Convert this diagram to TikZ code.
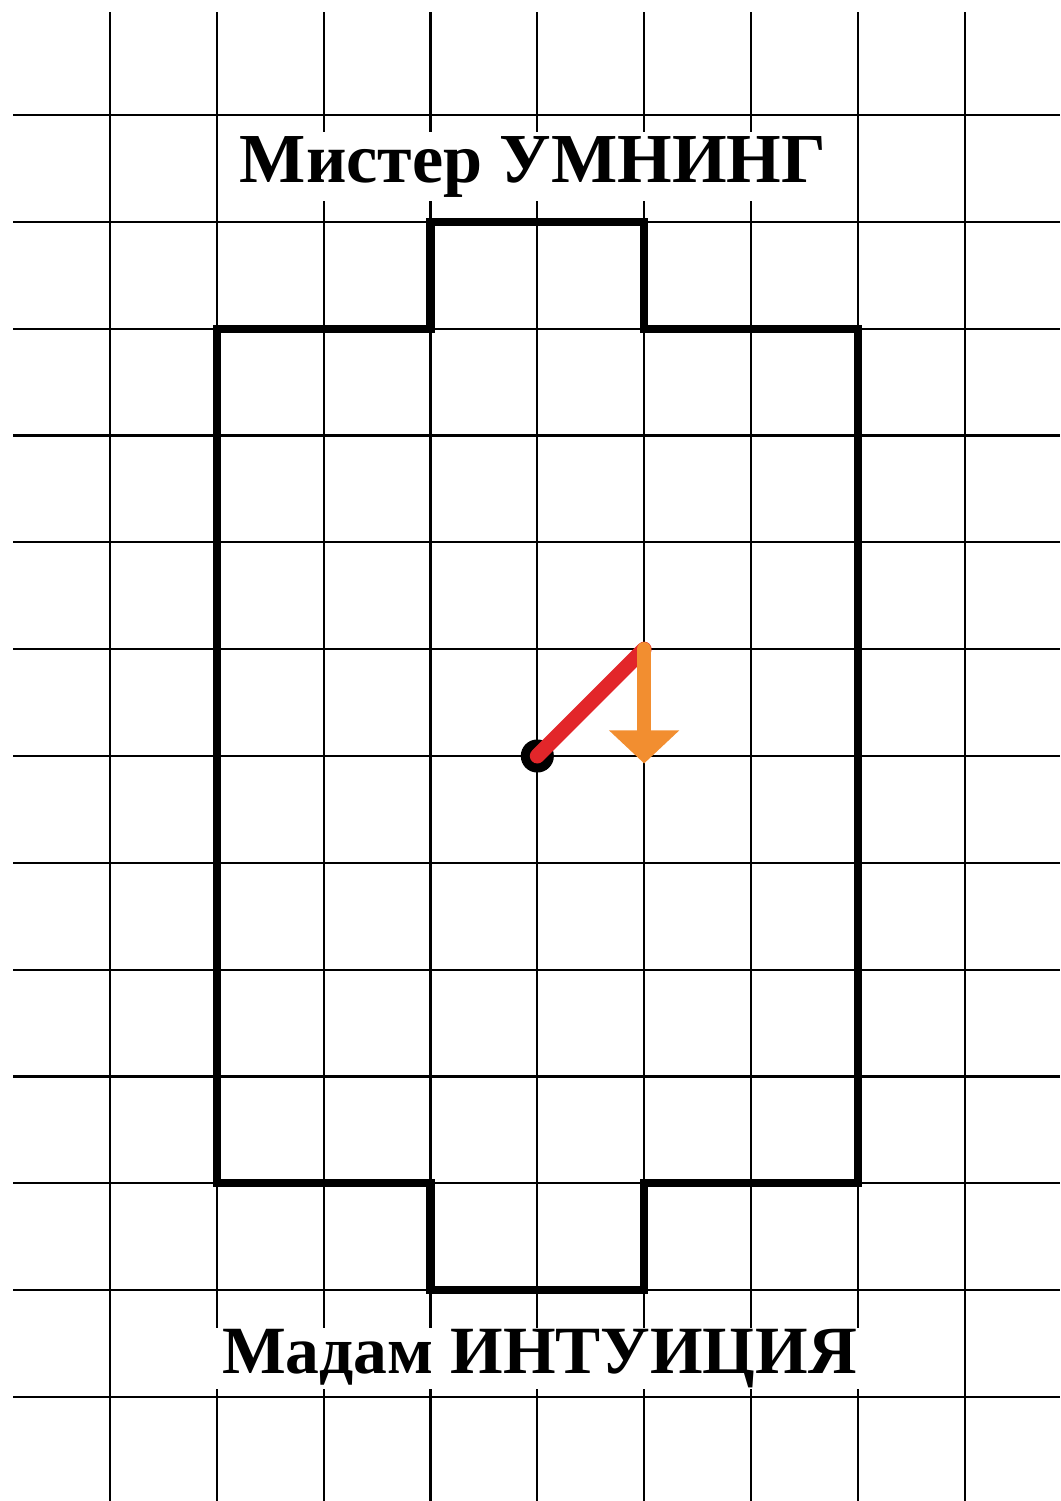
\documentclass[tikz,border=0pt]{standalone}
\usepackage{fontspec}
\setmainfont{Liberation Serif}
\usetikzlibrary{arrows.meta,positioning}
\definecolor{handred}{RGB}{226,38,42}
\definecolor{handorange}{RGB}{242,142,48}

\begin{document}
\begin{tikzpicture}[x=1cm,y=1cm,
    gridline/.style={black,line width=0.6pt},
    outline/.style={black,line width=2.2pt,line join=miter},
    caption/.style={fill=white,anchor=base,inner xsep=0.18cm,inner ysep=1pt,font=\bfseries}]
    \useasboundingbox (-1.03,-0.974) rectangle (8.895,13.077);

    % Grid
    \foreach \x in {0,...,8}
        \draw[gridline] (\x,12.96) -- (\x,-0.974);
    \foreach \y in {0,...,12}
        \draw[gridline] (-0.908,\y) -- (8.895,\y);

    % Labels
    \node[caption,font=\fontsize{18.7}{22}\selectfont\bfseries] (mister) at (3.96,11.373) {Мистер УМНИНГ};
    \node[caption,font=\fontsize{18}{22}\selectfont\bfseries,inner xsep=0.2cm,inner ysep=0.3pt] (madam) at (4.02,0.221) {Мадам ИНТУИЦИЯ};

    % Field outline
    \draw[outline] (1,10) -- (3,10) -- (3,11) -- (5,11) -- (5,10) -- (7,10)
        -- (7,2) -- (5,2) -- (5,1) -- (3,1) -- (3,2) -- (1,2) -- cycle;

    % Pointer
    \node[circle,fill=black,inner sep=0pt,minimum size=0.31cm] (pivot) at (4,6) {};
    \coordinate (corner) at (5,7);
    \coordinate (target) at (5,5.93);
    \draw[handred,line width=4pt,line cap=round] (pivot.center) -- (corner);
    \draw[handorange,line width=3.8pt,line cap=round,
        -{Triangle[length=0.31cm,width=0.64cm]}] (corner) -- (target);
\end{tikzpicture}
\end{document}
